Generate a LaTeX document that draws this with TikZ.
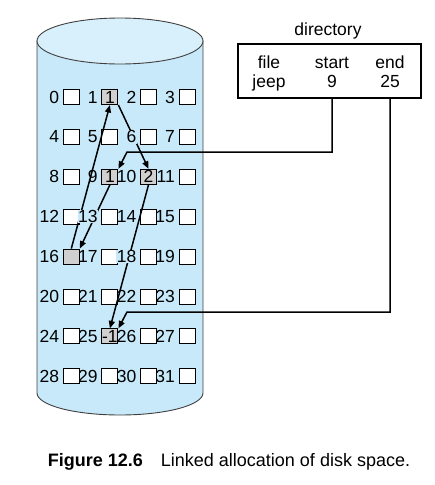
\documentclass[tikz,border=0pt]{standalone}
\usepackage{fontspec}
\setmainfont{Liberation Sans}
\usetikzlibrary{arrows.meta,positioning}

\definecolor{diskblue}{RGB}{199,233,249}
\definecolor{disktop}{RGB}{216,240,252}
\definecolor{blockgray}{RGB}{208,208,208}

\begin{document}
\begin{tikzpicture}[x=1pt, y=-1pt,
  font=\fontsize{17.5}{19}\selectfont,
  blk/.style={draw, line width=1pt, fill=white, minimum width=16pt,
              minimum height=15pt, inner sep=0pt},
  used/.style={fill=blockgray},
  blk1/.style={used, label={center:1}},
  blk9/.style={used, label={center:1}},
  blk10/.style={used, label={center:2}},
  blk16/.style={used},
  blk25/.style={used, label={center:-1}},
  num/.style={inner sep=0.5pt},
  num6/.style={fill=diskblue},
  num13/.style={fill=diskblue},
  num18/.style={fill=diskblue},
  arrow/.style={-{Triangle[length=7.5pt,width=6pt]}, line width=1.5pt}
]
\useasboundingbox (0,0) rectangle (435,485);

% disk
\draw[fill=diskblue, draw=black!75, line width=0.9pt] (37,41) -- (37,393)
  arc[start angle=180, end angle=360, x radius=83pt, y radius=22pt] -- (203,41) -- cycle;
\draw[fill=disktop, draw=black!75, line width=0.9pt] (120,41) ellipse[x radius=83pt, y radius=23pt];

% blocks
\foreach \n in {0,...,31}{
  \pgfmathtruncatemacro{\row}{\n/4}
  \pgfmathtruncatemacro{\col}{mod(\n,4)}
  \node[blk, blk\n/.try] (b\n) at ({71.3+38.6*\col},{97+39.9*\row}) {};
}

% directory
\node[draw, line width=1.7pt, minimum width=183pt, minimum height=54pt] (dir) at (329.5,71) {};
\node[anchor=base] (dtitle) at (328,35) {directory};
\node[anchor=base] (dfile) at (269,68) {file};
\node[anchor=base] (djeep) at (269,87) {jeep};
\node[anchor=base] (dstart) at (332,68) {start};
\node[anchor=base] (d9) at (332,87) {9};
\node[anchor=base] (dend) at (390,68) {end};
\node[anchor=base] (d25) at (390,87) {25};

% pointers
\coordinate (k1) at (127,152);
\coordinate (k2) at (127,312);
\draw[arrow] (d9 |- dir.south) |- (k1) -- (b9.north east);
\draw[arrow] (d25 |- dir.south) |- (k2) -- (b25.north east);
\draw[arrow] (b9.south) -- (b16.north east);
\draw[arrow] (b16.north) -- (b1.south);
\draw[arrow] (b1.south east) -- (b10.north);
\draw[arrow] (b10.south) -- (b25.north);

% block numbers
\foreach \n in {0,...,31}
  \node[num, num\n/.try, left=3pt of b\n] (l\n) {\n};

% caption
\node[anchor=base] (cap) at (229,466) {\fontsize{18}{20}\selectfont\textbf{Figure 12.6}\quad Linked allocation of disk space.};
\end{tikzpicture}
\end{document}
